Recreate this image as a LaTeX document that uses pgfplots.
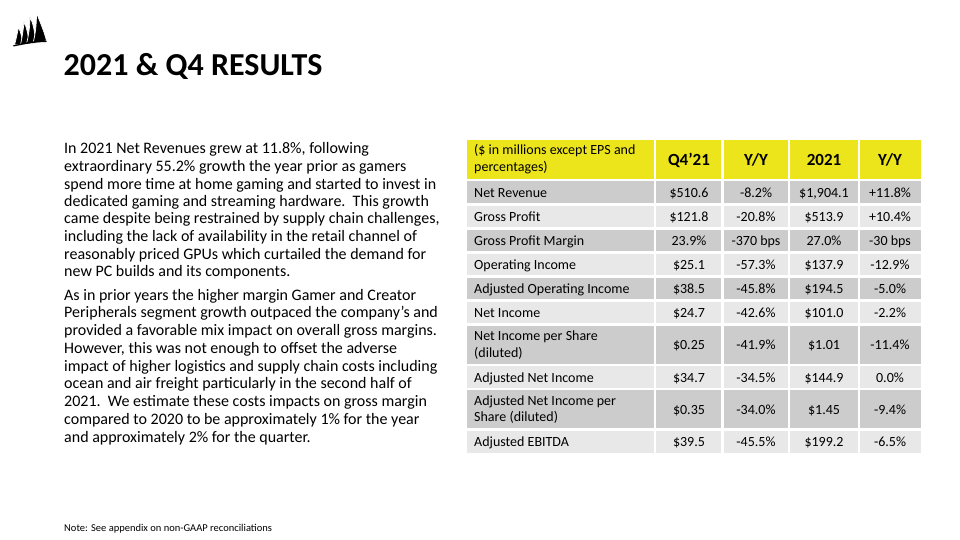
\documentclass[border=0pt]{standalone}
\usepackage{fontspec}
\setmainfont{Carlito}
\usepackage{pgfplots}
\pgfplotsset{compat=1.18}
\definecolor{hdr}{RGB}{237,229,27}
\definecolor{dk}{RGB}{204,204,204}
\definecolor{lt}{RGB}{232,232,232}
\tikzset{
  para/.style={anchor=base west,inner sep=0pt,font=\fontsize{16}{18}\selectfont},
  cell/.style={anchor=base west,inner sep=0pt,font=\fontsize{14}{16}\selectfont},
  num/.style={anchor=base,inner sep=0pt,font=\fontsize{14}{16}\selectfont},
  hd/.style={anchor=base,inner sep=0pt,font=\fontsize{17}{19}\selectfont\bfseries}}
\begin{document}
\begin{tikzpicture}
\begin{axis}[at={(0,0)},anchor=south west,width=960pt,height=540pt,scale only axis,
  xmin=0,xmax=960,ymin=0,ymax=540,y dir=reverse,axis lines=none,ticks=none,clip=false]
\path (0,0) rectangle (960,540);
% logo
\fill[black,draw=white,line width=0.7pt] (18.5,27.5) .. controls (21,32) and (22,38) .. (22.5,44) -- (14.5,45) .. controls (16.5,38) and (17.5,32) .. (18.5,27.5) -- cycle;
\fill[black,draw=white,line width=0.7pt] (24,22) .. controls (27,28) and (28.5,36) .. (29,43.5) -- (20.5,44.5) .. controls (22.5,36) and (23.5,28) .. (24,22) -- cycle;
\fill[black,draw=white,line width=0.7pt] (30,17) .. controls (33.5,24) and (35,33) .. (35.5,43) -- (26.5,44) .. controls (29,34) and (30,25) .. (30,17) -- cycle;
\fill[black,draw=white,line width=0.7pt] (36.5,13) .. controls (40,22) and (44.5,32) .. (46.5,41) -- (33,43) .. controls (36,32) and (36.5,22) .. (36.5,13) -- cycle;
\fill[black] (13,45.5) .. controls (25,42) and (37,40.5) .. (46.5,41) -- (46.5,42) .. controls (37,42) and (25,44) .. (13.5,46.5) -- cycle;
% title
\node[anchor=base west,inner sep=0pt,font=\fontsize{32}{36}\selectfont\bfseries] at (63.5,75.5) {2021 \& Q4 RESULTS};
% paragraph 1
\node[para] at (64,153.6) {In 2021 Net Revenues grew at 11.8\%, following};
\node[para] at (64,171.3) {extraordinary 55.2\% growth the year prior as gamers};
\node[para] at (64,189.1) {spend more time at home gaming and started to invest in};
\node[para] at (64,206.6) {dedicated gaming and streaming hardware.\ \ This growth};
\node[para] at (64,223.8) {came despite being restrained by supply chain challenges,};
\node[para] at (64,241.3) {including the lack of availability in the retail channel of};
\node[para] at (64,259.3) {reasonably priced GPUs which curtailed the demand for};
\node[para] at (64,276.9) {new PC builds and its components.};
% paragraph 2
\node[para] at (64,300.3) {As in prior years the higher margin Gamer and Creator};
\node[para] at (64,317.9) {Peripherals segment growth outpaced the company’s and};
\node[para] at (64,335.9) {provided a favorable mix impact on overall gross margins.};
\node[para] at (64,353.6) {However, this was not enough to offset the adverse};
\node[para] at (64,371.3) {impact of higher logistics and supply chain costs including};
\node[para] at (64,388.9) {ocean and air freight particularly in the second half of};
\node[para] at (64,406.9) {2021.\ \ We estimate these costs impacts on gross margin};
\node[para] at (64,424.6) {compared to 2020 to be approximately 1\% for the year};
\node[para] at (64,442.3) {and approximately 2\% for the quarter.};
% note
\node[anchor=base west,inner sep=0pt,font=\fontsize{10.5}{12}\selectfont] at (64,531.5) {Note: See appendix on non-GAAP reconciliations};
% table backgrounds
\fill[hdr] (467,140) rectangle (921,180);
\fill[dk] (467,180) rectangle (921,204.5);
\fill[lt] (467,204.5) rectangle (921,228.5);
\fill[dk] (467,228.5) rectangle (921,252.5);
\fill[lt] (467,252.5) rectangle (921,276.5);
\fill[dk] (467,276.5) rectangle (921,300.5);
\fill[lt] (467,300.5) rectangle (921,324.5);
\fill[dk] (467,324.5) rectangle (921,365);
\fill[lt] (467,365) rectangle (921,389);
\fill[dk] (467,389) rectangle (921,429.5);
\fill[lt] (467,429.5) rectangle (921,452.5);
% grid lines
\pgfplotsinvokeforeach{180,204.5,228.5,252.5,276.5,300.5,324.5,365,389,429.5}{\draw[white,line width=2.2pt] (467,#1) -- (921,#1);}
\pgfplotsinvokeforeach{655,722.5,789,859}{\draw[white,line width=2.2pt] (#1,140) -- (#1,452.5);}
% header
\node[cell] at (474,155) {(\$ in millions except EPS and};
\node[cell] at (474,171.6) {percentages)};
\node[hd] at (689,165.5) {Q4’21};
\node[hd] at (756,165.5) {Y/Y};
\node[hd] at (824,165.5) {2021};
\node[hd] at (890,165.5) {Y/Y};
% rows
\node[cell] at (474,197.3) {Net Revenue};
\node[num] at (689,197.3) {\$510.6};
\node[num] at (756,197.3) {-8.2\%};
\node[num] at (824,197.3) {\$1,904.1};
\node[num] at (890,197.3) {+11.8\%};
\node[cell] at (474,221.5) {Gross Profit};
\node[num] at (689,221.5) {\$121.8};
\node[num] at (756,221.5) {-20.8\%};
\node[num] at (824,221.5) {\$513.9};
\node[num] at (890,221.5) {+10.4\%};
\node[cell] at (474,245.5) {Gross Profit Margin};
\node[num] at (689,245.5) {23.9\%};
\node[num] at (756,245.5) {-370 bps};
\node[num] at (824,245.5) {27.0\%};
\node[num] at (890,245.5) {-30 bps};
\node[cell] at (474,269.5) {Operating Income};
\node[num] at (689,269.5) {\$25.1};
\node[num] at (756,269.5) {-57.3\%};
\node[num] at (824,269.5) {\$137.9};
\node[num] at (890,269.5) {-12.9\%};
\node[cell] at (474,293.5) {Adjusted Operating Income};
\node[num] at (689,293.5) {\$38.5};
\node[num] at (756,293.5) {-45.8\%};
\node[num] at (824,293.5) {\$194.5};
\node[num] at (890,293.5) {-5.0\%};
\node[cell] at (474,317.5) {Net Income};
\node[num] at (689,317.5) {\$24.7};
\node[num] at (756,317.5) {-42.6\%};
\node[num] at (824,317.5) {\$101.0};
\node[num] at (890,317.5) {-2.2\%};
\node[cell] at (474,340.3) {Net Income per Share};
\node[cell] at (474,357.3) {(diluted)};
\node[num] at (689,349.8) {\$0.25};
\node[num] at (756,349.8) {-41.9\%};
\node[num] at (824,349.8) {\$1.01};
\node[num] at (890,349.8) {-11.4\%};
\node[cell] at (474,382) {Adjusted Net Income};
\node[num] at (689,382) {\$34.7};
\node[num] at (756,382) {-34.5\%};
\node[num] at (824,382) {\$144.9};
\node[num] at (890,382) {0.0\%};
\node[cell] at (474,405) {Adjusted Net Income per};
\node[cell] at (474,421.7) {Share (diluted)};
\node[num] at (689,414.3) {\$0.35};
\node[num] at (756,414.3) {-34.0\%};
\node[num] at (824,414.3) {\$1.45};
\node[num] at (890,414.3) {-9.4\%};
\node[cell] at (474,446) {Adjusted EBITDA};
\node[num] at (689,446) {\$39.5};
\node[num] at (756,446) {-45.5\%};
\node[num] at (824,446) {\$199.2};
\node[num] at (890,446) {-6.5\%};
\end{axis}
\end{tikzpicture}
\end{document}
